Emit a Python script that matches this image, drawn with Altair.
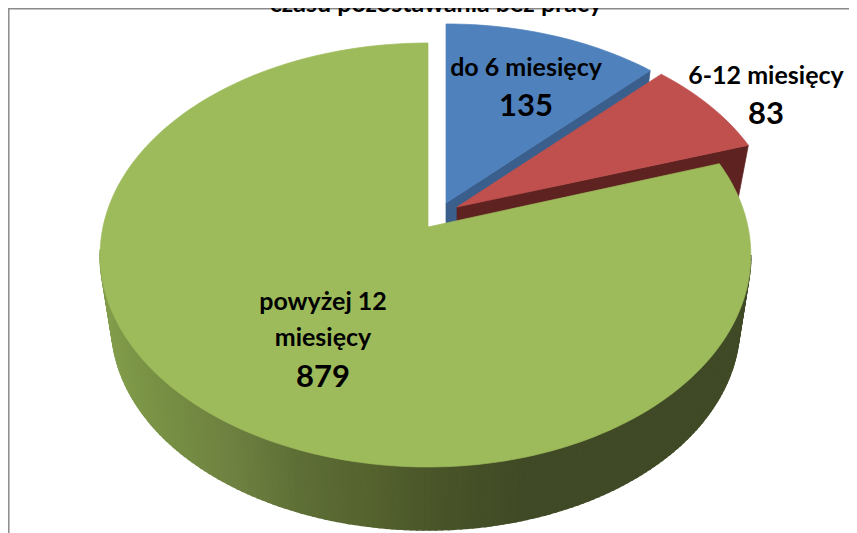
import math
import altair as alt
import pandas as pd

# ---- chart values
categories = ["do 6 miesięcy", "6-12 miesięcy", "powyżej 12 miesięcy"]
values = [135, 83, 879]
title_text = "czasu pozostawania bez pracy"

# ---- styling / layout
FONT = "Lato"
TOP = ["#4F81BD", "#C0504D", "#9EBB5B"]
WALL = ["#3A5F8C", "#5E2321"]
FRAME = "#8A8A8A"
# gradient of the front wall (x on page -> colour)
GRAD = [(100, (0x84, 0xA0, 0x4C)), (170, (0x77, 0x8F, 0x44)), (240, (0x6E, 0x80, 0x40)),
        (300, (0x5E, 0x6F, 0x36)), (370, (0x55, 0x63, 0x2F)), (430, (0x4A, 0x55, 0x29)),
        (520, (0x40, 0x4A, 0x26)), (760, (0x40, 0x4A, 0x26))]
# slice apex on page: slices are pulled out of the common centre
APEX = [(446, 203, 0.973), (457, 207, 0.975), (428, 227, 1.0)]
K, B, A_R, A_L = 0.132, 208.3, 320.0, 325.0
SHRINK, DEPTH_GREEN, DEPTH_SMALL = 0.965, 71.4, 51.0


def project(theta, apex):
    ax, ay, sy = apex
    u, v = math.sin(math.radians(theta)), math.cos(math.radians(theta))
    d = 1 + K * v
    a = A_R if u > 0 else A_L
    return ax + a * u / d, ay - B * sy * v / d


def lower(pt, apex, depth):
    ax, ay, _ = apex
    return ax + SHRINK * (pt[0] - ax), ay + depth + SHRINK * (pt[1] - ay)


def grad(x):
    for (x0, c0), (x1, c1) in zip(GRAD, GRAD[1:]):
        if x <= x1:
            t = max(0.0, (x - x0) / (x1 - x0))
            return "#%02x%02x%02x" % tuple(round(a + (b - a) * t) for a, b in zip(c0, c1))
    return "#404a26"


def poly_layer(polys, sw=0.7):
    rows = []
    for pid, (pts, color) in enumerate(polys):
        closed = list(pts) + [pts[0]]
        for i, (x, y) in enumerate(closed):
            rows.append({"p": pid, "i": i, "x": x, "y": y, "c": color})
    return alt.Chart(pd.DataFrame(rows)).mark_line(strokeWidth=sw, clip=False).encode(
        x=alt.X("x:Q", scale=xs, axis=None),
        y=alt.Y("y:Q", scale=ys, axis=None),
        order="i:Q",
        detail="p:N",
        fill=alt.Fill("c:N", scale=None, legend=None),
        stroke=alt.Stroke("c:N", scale=None, legend=None),
    )


xs = alt.Scale(domain=[8, 849], range=[0, 841], nice=False, zero=False)
ys = alt.Scale(domain=[533, 8], nice=False, zero=False)

# slice angles clockwise from 12 o'clock
total = sum(values)
edges = [0.0]
for val in values:
    edges.append(edges[-1] + 360.0 * val / total)


def sector(i):
    apex = APEX[i]
    n = max(2, int((edges[i + 1] - edges[i]) / 1.5))
    rim = [project(edges[i] + (edges[i + 1] - edges[i]) * k / n, apex) for k in range(n + 1)]
    return [(apex[0], apex[1])] + rim


def end_wall(i):
    apex = APEX[i]
    tip = project(edges[i + 1], apex)
    return [(apex[0], apex[1]), tip, lower(tip, apex, DEPTH_SMALL),
            (apex[0], apex[1] + DEPTH_SMALL)]


# green front wall, one strip per small step of the angle
strips = []
ga = APEX[2]
steps = int((edges[3] - edges[2]) / 1.0)
for k in range(steps):
    t0 = edges[2] + (edges[3] - edges[2]) * k / steps
    t1 = edges[2] + (edges[3] - edges[2]) * (k + 1) / steps
    a, b = project(t0, ga), project(t1, ga)
    c, d = lower(b, ga, DEPTH_GREEN), lower(a, ga, DEPTH_GREEN)
    if 97 < t0 < 263:
        strips.append(([a, b, c, d], grad((c[0] + d[0]) / 2)))

layers = [
    poly_layer([(end_wall(0), WALL[0])]),
    poly_layer([(sector(0), TOP[0])]),
    poly_layer([(end_wall(1), WALL[1])]),
    poly_layer([(sector(1), TOP[1])]),
    poly_layer(strips, sw=1.6),
    poly_layer([(sector(2), TOP[2])]),
]

# frame
frame_h = pd.DataFrame({"x": [8], "x2": [849], "y": [8.8]})
frame_v = pd.DataFrame({"x": [8.8], "y": [8], "y2": [533]})
layers.append(alt.Chart(frame_h).mark_rule(color=FRAME, strokeWidth=1.5).encode(
    x=alt.X("x:Q", scale=xs, axis=None), x2="x2:Q", y=alt.Y("y:Q", scale=ys, axis=None)))
layers.append(alt.Chart(frame_v).mark_rule(color=FRAME, strokeWidth=1.5).encode(
    x=alt.X("x:Q", scale=xs, axis=None), y=alt.Y("y:Q", scale=ys, axis=None), y2="y2:Q"))

# texts
label_rows = [
    (title_text, 436, 12, 25),
    ("do 6 miesięcy", 526, 76, 25),
    (str(values[0]), 526, 116, 31),
    ("6-12 miesięcy", 766, 84, 25),
    (str(values[1]), 766, 124, 31),
    ("powyżej 12", 323, 310, 25),
    ("miesięcy", 323, 346, 25),
    (str(values[2]), 323, 387, 31),
]
texts = pd.DataFrame(label_rows, columns=["t", "x", "y", "s"])
for size, group in texts.groupby("s"):
    layers.append(alt.Chart(group).mark_text(
        font=FONT, fontWeight="bold", fontSize=int(size), color="#000000",
        align="center", baseline="alphabetic", clip=False,
    ).encode(
        x=alt.X("x:Q", scale=xs, axis=None),
        y=alt.Y("y:Q", scale=ys, axis=None),
        text="t:N",
    ))

chart = alt.layer(*layers).resolve_scale(fill="independent", stroke="independent").properties(
    width=841,
    height=525,
    padding=0,
    autosize=alt.AutoSizeParams(type="none"),
    background="#ffffff",
).configure_view(stroke=None)

chart.save("out.html", embed_options={"renderer": "svg", "actions": False})
